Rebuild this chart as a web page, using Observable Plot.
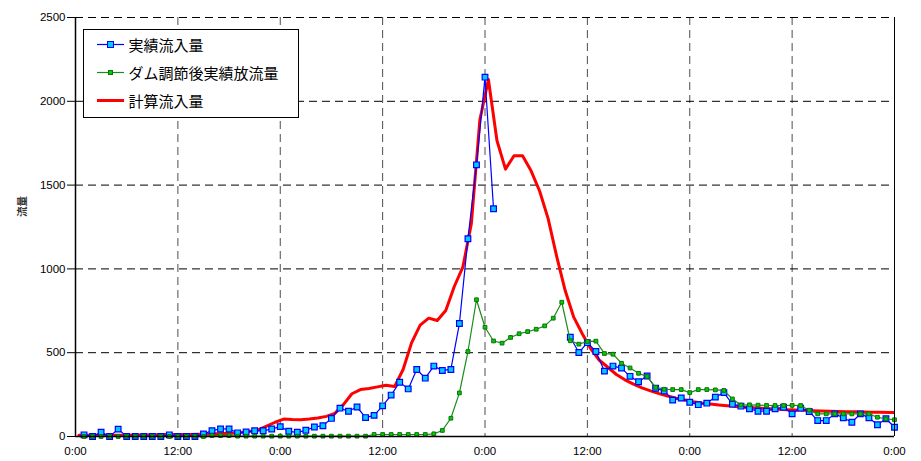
<!DOCTYPE html>
<html>
<head>
<meta charset="utf-8">
<script src="https://cdn.jsdelivr.net/npm/d3@7"></script>
<script src="https://cdn.jsdelivr.net/npm/@observablehq/plot@0.6"></script>
<style>
  html, body { margin: 0; padding: 0; background: #fff; }
  #wrap { position: relative; width: 921px; height: 461px; }
  #wrap > svg { position: absolute; left: 0; top: 0; }
</style>
</head>
<body>
<div id="wrap"></div>
<script>
// ---------------- data ----------------
const seriesNames = ["実績流入量", "ダム調節後実績放流量", "計算流入量"];
const yAxisLabel = "流量";

const xTicks = [0, 12, 24, 36, 48, 60, 72, 84, 96];
const xTickLabels = ["0:00", "12:00", "0:00", "12:00", "0:00", "12:00", "0:00", "12:00", "0:00"];
const yTicks = [0, 500, 1000, 1500, 2000, 2500];
const yTickLabels = ["0", "500", "1000", "1500", "2000", "2500"];

// hourly observations, hour 1 .. 96
const obsHours = d3.range(1, 97);

// 実績流入量 (null = missing)
const inflowObserved = [
  10, 0, 26, 0, 44, 0, 0, 0, 0, 0, 10, 0,
  0, 0, 15, 35, 45, 45, 22, 27, 34, 34, 45, 59,
  31, 25, 37, 57, 64, 108, 169, 151, 176, 113, 126, 183,
  247, 324, 284, 400, 348, 420, 394, 400, 674, 1180, 1621, 2144,
  1359, null, null, null, null, null, null, null, null, 592, 501, 560,
  507, 390, 420, 408, 359, 327, 361, 288, 272, 217, 230, 204,
  190, 199, 235, 262, 193, 181, 165, 151, 151, 165, 175, 135,
  169, 149, 95, 95, 135, 112, 85, 135, 112, 70, 106, 55
];

// ダム調節後実績放流量
const outflowObserved = [
  0, 0, 0, 0, 0, 0, 0, 0, 0, 0, 0, 0,
  0, 0, 0, 5, 5, 5, 2, 2, 2, 2, 2, 2,
  2, 2, 2, 2, 2, 2, 2, 2, 2, 2, 12, 12,
  12, 12, 12, 12, 12, 16, 36, 109, 260, 507, 816, 652,
  570, 557, 591, 613, 626, 640, 660, 706, 801, 571, 551, 567,
  569, 495, 491, 437, 409, 377, 358, 293, 282, 280, 280, 262,
  280, 280, 278, 275, 224, 188, 189, 187, 186, 185, 185, 186,
  185, 157, 135, 135, 135, 135, 135, 135, 135, 115, 105, 100
];

// 計算流入量, hourly from hour 0.4
const calcStart = 0.4;
const inflowCalculated = [
  8, 8, 8, 8, 8, 8, 8, 9, 9, 10, 12, 12,
  12, 12, 13, 14, 16, 18, 20, 24, 30, 40, 62, 85,
  104, 101, 100, 104, 110, 120, 138, 190, 255, 280, 287, 296,
  306, 298, 400, 560, 665, 706, 692, 752, 895, 1010, 1270, 1890,
  2130, 1766, 1595, 1675, 1675, 1585, 1465, 1300, 1075, 871, 712, 613,
  523, 455, 413, 370, 338, 312, 290, 272, 256, 242, 229, 218,
  208, 200, 194, 188, 183, 179, 175, 171, 168, 165, 162, 160,
  158, 156, 154, 152, 150, 149, 148, 147, 146, 145, 144, 143, 142
];

const colors = {
  blueLine: "#0000ff", blueFill: "#00ccff",
  greenLine: "#1a8c1a", greenFill: "#00cc00", greenStroke: "#107010",
  red: "#ff0000"
};

// ---------------- tables ----------------
const blueRows = obsHours.map((h, i) => ({h, v: inflowObserved[i]}));
const greenRows = obsHours.map((h, i) => ({h, v: outflowObserved[i]}));
const redRows = inflowCalculated.map((v, i) => ({h: calcStart + i, v}));

const sansFont = "'Liberation Sans', Arial, sans-serif";
const jpFont = "'Noto Sans CJK JP', sans-serif";

const chart = Plot.plot({
  width: 921,
  height: 461,
  marginLeft: 75,
  marginRight: 27,
  marginTop: 17,
  marginBottom: 25,
  style: {fontFamily: sansFont, fontSize: "11.5px", background: "#fff", color: "#000"},
  x: {domain: [0, 96], label: null},
  y: {domain: [0, 2500], label: null},
  marks: [
    Plot.gridY(yTicks.filter(v => v > 0), {stroke: "#000", strokeOpacity: 1, strokeDasharray: "8,5"}),
    Plot.gridX(xTicks.filter(v => v > 0 && v < 96), {stroke: "#000", strokeOpacity: 0.7, strokeDasharray: "8,5"}),
    Plot.line(redRows, {x: "h", y: "v", stroke: colors.red, strokeWidth: 3, clip: true}),
    Plot.line(blueRows, {x: "h", y: "v", stroke: colors.blueLine, strokeWidth: 1.2}),
    Plot.dot(blueRows, {x: "h", y: "v", symbol: "square", r: 3.2, fill: colors.blueFill, stroke: colors.blueLine, strokeWidth: 1.2}),
    Plot.line(greenRows, {x: "h", y: "v", stroke: colors.greenLine, strokeWidth: 1.2}),
    Plot.dot(greenRows, {x: "h", y: "v", symbol: "square", r: 2.1, fill: colors.greenFill, stroke: colors.greenStroke, strokeWidth: 1}),
    Plot.ruleX([0], {stroke: "#000", strokeWidth: 1.5}),
    Plot.ruleX([96], {stroke: "#000", strokeWidth: 1}),
    Plot.ruleY([0], {stroke: "#000", strokeWidth: 1.5}),
    Plot.axisX({ticks: xTicks, tickFormat: d => xTickLabels[xTicks.indexOf(d)], tickSize: 0, tickPadding: 10, label: null, fontSize: "11.5px"}),
    Plot.axisY({ticks: yTicks, tickFormat: d => yTickLabels[yTicks.indexOf(d)], tickSize: 8, tickPadding: 2, label: null, fontSize: "11.5px"}),
    Plot.text([yAxisLabel], {frameAnchor: "left", rotate: -90, dx: -53, dy: -10, fontFamily: jpFont, fontSize: 10.5, fontWeight: "bold", fill: "#333"})
  ]
});

const wrap = document.getElementById("wrap");
wrap.appendChild(chart);

// ---------------- legend overlay ----------------
const legendSvg = d3.select(wrap).append("svg")
  .attr("width", 921).attr("height", 461)
  .style("pointer-events", "none");

legendSvg.append("rect")
  .attr("x", 83.5).attr("y", 29.5).attr("width", 215).attr("height", 88)
  .attr("fill", "#fff").attr("stroke", "#000").attr("stroke-width", 1);

const legendItems = [
  {name: seriesNames[0], line: colors.blueLine, lw: 1.2, fill: colors.blueFill, ms: colors.blueLine, size: 6},
  {name: seriesNames[1], line: colors.greenLine, lw: 1.2, fill: colors.greenFill, ms: colors.greenStroke, size: 4},
  {name: seriesNames[2], line: colors.red, lw: 3, fill: null, ms: null, size: 0}
];
const rowY = [44.5, 72.5, 100.5];

legendItems.forEach((it, i) => {
  const y = rowY[i];
  legendSvg.append("line")
    .attr("x1", 97).attr("x2", 124).attr("y1", y).attr("y2", y)
    .attr("stroke", it.line).attr("stroke-width", it.lw);
  if (it.size) {
    legendSvg.append("rect")
      .attr("x", 110.5 - it.size / 2).attr("y", y - it.size / 2)
      .attr("width", it.size).attr("height", it.size)
      .attr("fill", it.fill).attr("stroke", it.ms).attr("stroke-width", 1);
  }
  legendSvg.append("text")
    .attr("x", 128.5).attr("y", y)
    .attr("dominant-baseline", "central")
    .attr("font-family", jpFont).attr("font-size", 15)
    .attr("fill", "#000")
    .text(it.name);
});
</script>
</body>
</html>
